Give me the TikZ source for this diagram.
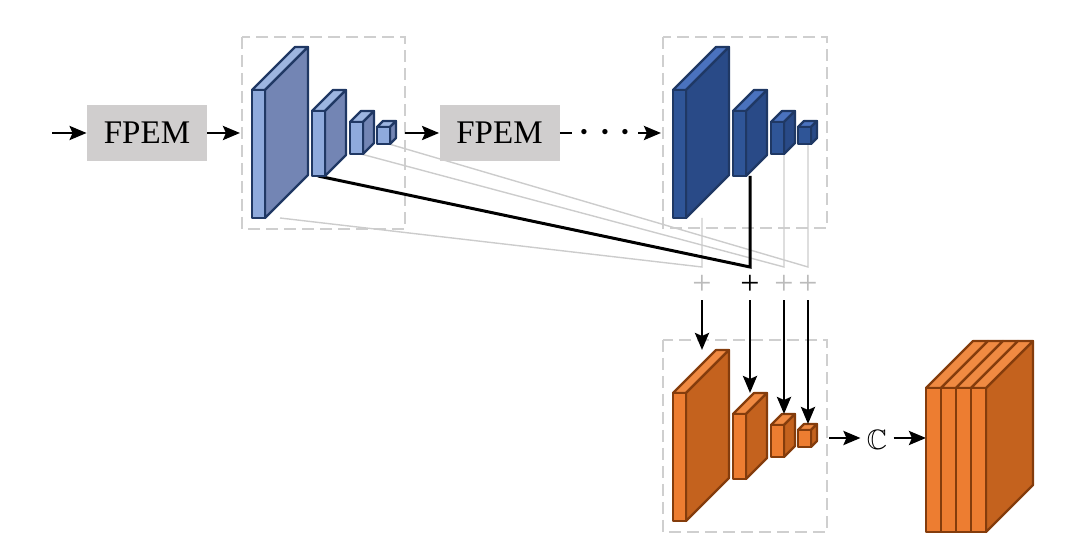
\documentclass[tikz,border=0pt]{standalone}
\usepackage{fontspec}
\setmainfont{Liberation Serif}
\usepackage{amssymb}
\usetikzlibrary{arrows.meta}
\definecolor{lbfront}{HTML}{8FAADC}
\definecolor{lbside}{HTML}{7385B4}
\definecolor{lbtop}{HTML}{9DB5E0}
\definecolor{lbedge}{HTML}{203864}
\definecolor{dbfront}{HTML}{2F5597}
\definecolor{dbside}{HTML}{294A87}
\definecolor{dbtop}{HTML}{4A72BE}
\definecolor{dbedge}{HTML}{1F3864}
\definecolor{orfront}{HTML}{ED7D31}
\definecolor{orside}{HTML}{C4621E}
\definecolor{ortop}{HTML}{F08A42}
\definecolor{oredge}{HTML}{843C0C}
\definecolor{fpemgray}{HTML}{D0CECE}
\definecolor{boxgray}{HTML}{CFCFCF}
\definecolor{linegray}{HTML}{CCCCCC}
\definecolor{plusgray}{HTML}{BBBBBB}
\newcommand\drawcube[6]{%
  \filldraw[cubeline, draw=#6edge, fill=#6top] (#1,#2) -- ++(#5,-#5) -- ++(#3,0) -- ++(-#5,#5) -- cycle;
  \filldraw[cubeline, draw=#6edge, fill=#6side] (#1+#3,#2) -- ++(#5,-#5) -- ++(0,#4) -- ++(-#5,#5) -- cycle;
  \filldraw[cubeline, draw=#6edge, fill=#6front] (#1,#2) rectangle ++(#3,#4);
}
\newcommand\drawpyr[3]{%
  \drawcube{#1}{#2}{13}{128}{43}{#3}
  \drawcube{#1+60}{#2+21}{13}{65}{21}{#3}
  \drawcube{#1+98}{#2+32}{13}{32}{11}{#3}
  \drawcube{#1+125}{#2+37}{13}{17}{6}{#3}
}
\begin{document}
\begin{tikzpicture}[x=0.5pt,y=-0.5pt,
  cubeline/.style={line width=1.1pt, line join=round},
  dbox/.style={draw=boxgray, line width=1.1pt, dash pattern=on 6pt off 3pt},
  gline/.style={draw=linegray, line width=0.7pt},
  bline/.style={draw=black, line width=1.5pt},
  arr/.style={draw=black, line width=1.4pt, -{Stealth[length=8.5pt,width=7pt,inset=1.5pt]}},
  plain/.style={draw=black, line width=1.4pt},
  fpem/.style={fill=fpemgray, minimum width=60pt, minimum height=28pt, inner sep=0pt, font=\fontsize{16.5}{16.5}\selectfont},
  plus/.style={inner sep=0pt, minimum size=15pt, font=\fontsize{17}{17}\selectfont},
]
\useasboundingbox (0,0) rectangle (1078,550);

% dashed frames
\draw[dbox] (242,37) rectangle (405,229);
\draw[dbox] (663,37) rectangle (827,228);
\draw[dbox] (663,340) rectangle (827,532);

% connection coordinates
\coordinate (l1) at (280,218);
\coordinate (l2) at (318,176);
\coordinate (l3) at (361,154);
\coordinate (l4) at (389,144);
\coordinate (j1) at (702,267);
\coordinate (j2) at (750,267);
\coordinate (j3) at (784,267);
\coordinate (j4) at (808,267);
\coordinate (d1) at (702,218);
\coordinate (d2) at (750,176);
\coordinate (d3) at (784,154);
\coordinate (d4) at (808,144);
\coordinate (o1) at (702,350);
\coordinate (o2) at (750,393);
\coordinate (o3) at (784,414);
\coordinate (o4) at (808,424);

\draw[gline] (l1) -- (j1) -- (d1);
\draw[gline] (l3) -- (j3) -- (d3);
\draw[gline] (l4) -- (j4) -- (d4);
\draw[bline] (l2) -- (j2) -- (d2);

% pyramids
\drawpyr{252}{90}{lb}
\drawpyr{673}{90}{db}
\drawpyr{673}{393}{or}

% plus signs and arrows
\node[plus, text=plusgray] (p1) at (702,285) {+};
\node[plus, text=black] (p2) at (750,285) {+};
\node[plus, text=plusgray] (p3) at (784,285) {+};
\node[plus, text=plusgray] (p4) at (808,285) {+};
\draw[arr] (p1) -- (o1);
\draw[arr] (p2) -- (o2);
\draw[arr] (p3) -- (o3);
\draw[arr] (p4) -- (o4);

% top row
\coordinate (in) at (52,133);
\node[fpem] (f1) at (147,133) {FPEM};
\coordinate (lbw) at (240,133);
\draw[arr] (in) -- (f1);
\draw[arr] (f1) -- (lbw);
\coordinate (lbe) at (405,133);
\node[fpem] (f2) at (499.5,133) {FPEM};
\draw[arr] (lbe) -- (f2);
\node[inner sep=0pt, minimum width=33pt, font=\fontsize{26}{26}\selectfont] (ellip) at (605,133) {$\cdotp\mkern-0.6mu\cdotp\mkern-0.6mu\cdotp$};
\coordinate (dbw) at (661,133);
\draw[plain] (f2) -- (ellip.west |- f2);
\draw[arr] (ellip.east |- dbw) -- (dbw);

% concatenation
\coordinate (ob) at (829,438);
\node[inner sep=3pt, font=\fontsize{14}{14}\selectfont] (cc) at (877,440) {$\mathbb{C}$};
\coordinate (cat) at (926,438);
\draw[arr] (ob) -- (cc.west |- ob);
\draw[arr] (cc.east |- cat) -- (cat);

\filldraw[cubeline, draw=oredge, fill=orside] (986,388) -- ++(47,-47) -- ++(0,144) -- ++(-47,47) -- cycle;
\foreach \i in {0,1,2,3} {
  \filldraw[cubeline, draw=oredge, fill=ortop] (926+15*\i,388) -- ++(47,-47) -- ++(15,0) -- ++(-47,47) -- cycle;
}
\foreach \i in {0,1,2,3} {
  \filldraw[cubeline, draw=oredge, fill=orfront] (926+15*\i,388) rectangle ++(15,144);
}
\end{tikzpicture}
\end{document}
